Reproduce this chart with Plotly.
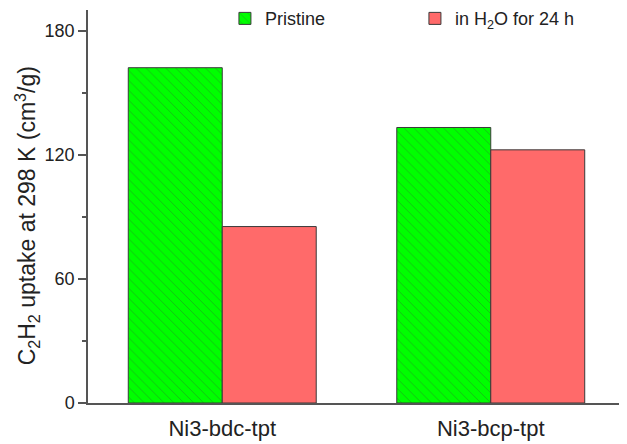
import plotly.graph_objects as go

categories = ["Ni3-bdc-tpt", "Ni3-bcp-tpt"]
pristine = [162.1, 133.2]
in_water = [85.3, 122.4]
series_names = ["Pristine", "in H<sub>2</sub>O for 24 h"]
y_tickvals = [0, 60, 120, 180]
y_title = "C<sub>2</sub>H<sub>2</sub> uptake at 298 K (cm<sup>3</sup>/g)"

font_family = "Liberation Sans, Arial, sans-serif"

# The page body has an 8 px margin, so the figure is sized to fill the
# remaining 619x436 window area.
fig = go.Figure()
fig.add_trace(go.Bar(
    x=categories, y=pristine, name=series_names[0],
    marker=dict(color="#00FF00",
                line=dict(color="#3a3a3a", width=1),
                pattern=dict(shape="\\", fgcolor="#2f6f2f", size=7, solidity=0.12)),
))
fig.add_trace(go.Bar(
    x=categories, y=in_water, name=series_names[1],
    marker=dict(color="#FF6A6A", line=dict(color="#3a3a3a", width=1)),
))

fig.update_layout(
    width=619, height=436,
    margin=dict(l=80, r=2, t=2, b=41, autoexpand=False),
    plot_bgcolor="white", paper_bgcolor="white",
    barmode="group", bargap=0.3, bargroupgap=0,
    font=dict(family=font_family, size=18, color="#222222"),
    legend=dict(orientation="h", x=0.255, xanchor="left",
                y=1.025, yanchor="top",
                font=dict(size=18), entrywidth=145, entrywidthmode="pixels",
                bgcolor="rgba(0,0,0,0)"),
    annotations=[dict(text=y_title, textangle=-90, xref="paper", yref="paper",
                      x=-0.1471, y=0.475, xanchor="left", yanchor="middle",
                      showarrow=False, font=dict(size=23, color="#222222"))],
)
fig.update_xaxes(
    range=[-0.5, 1.5], showline=True, linecolor="#555555", linewidth=1.5,
    ticks="", showgrid=False, zeroline=False, tickfont=dict(size=22),
    ticklabelstandoff=5, automargin=False,
)
fig.update_yaxes(
    range=[0, 190], tickvals=y_tickvals, ticks="outside", ticklen=8, tickwidth=1.5,
    tickcolor="#555555", showline=True, linecolor="#555555", linewidth=1.5,
    showgrid=False, zeroline=False, tickfont=dict(size=18), automargin=False,
    minor=dict(dtick=30, ticks="outside", ticklen=4, tickcolor="#555555", showgrid=False),
)

fig.write_html("out.html")
